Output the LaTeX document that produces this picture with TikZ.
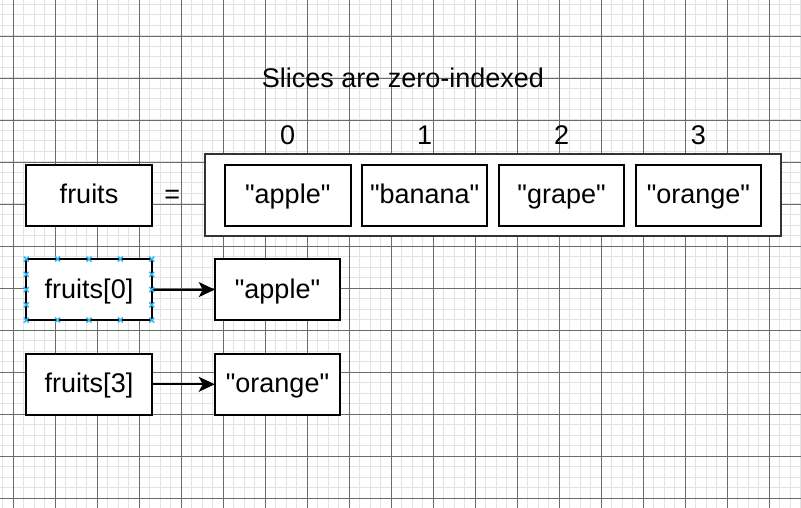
\documentclass[tikz,border=0pt]{standalone}
\usepackage{fontspec}
\setmainfont{Liberation Sans}[Ligatures=TeXOff]
\usetikzlibrary{matrix,positioning,arrows.meta,calc}
\definecolor{gridminor}{HTML}{E3E3E3}
\definecolor{gridmajor}{HTML}{6B6B6B}
\definecolor{selblue}{HTML}{29B6F2}
\tikzset{
  box/.style={draw,line width=2pt,fill=white,outer sep=0pt,inner sep=0pt,
    minimum width=125.5pt,minimum height=61pt,text height=19pt,text depth=2pt},
  plain/.style={inner sep=0pt,outer sep=0pt,text height=19pt,text depth=2pt},
  idx/.style={draw=none,fill=none,minimum height=0pt},
  ptr/.style={line width=2pt,-{Stealth[length=16pt,width=15pt,inset=4pt]}},
  selmark/.style={selblue,line width=1.4pt},
}
\def\Slice{
    \matrix (slice)
    [matrix of nodes,
    nodes in empty cells,
    ampersand replacement=\&,
    column sep={9.4pt},
    row sep={17.6pt},
    inner sep=0pt, outer sep=0pt,
    nodes={box} ] at (493.1,176)
    {
     |[idx]| 0 \& |[idx]| 1 \& |[idx]| 2 \& |[idx]| 3 \\
     "apple" \& "banana" \& "grape" \& "orange" \\
};
}
\begin{document}
\begin{tikzpicture}[x=1pt,y=-1pt,font=\fontsize{27pt}{32pt}\selectfont]
    \useasboundingbox (0,0) rectangle (801,508);
    \fill[white] (0,0) rectangle (801,508);
    % grid
    \foreach \i in {0,...,76} \draw[gridminor,line width=1pt] ({2.8+10.5*\i},0) -- ++(0,508);
    \foreach \i in {0,...,47} \draw[gridminor,line width=1pt] (0,{4.5+10.5*\i}) -- ++(801,0);
    \foreach \i in {0,...,18} \draw[gridmajor,line width=0.8pt] ({13.3+42*\i},0) -- ++(0,508);
    \foreach \i in {0,...,11} \draw[gridmajor,line width=0.8pt] (0,{36+42*\i}) -- ++(801,0);

    \node[plain] (title) at (403,78.8) {Slices are zero-indexed};
    \node[box] (fruits) at (89,195.3) {fruits};
    \node[plain] (eq) at (172.3,195) {=};
    \node[box,draw=black!80,minimum width=576pt,minimum height=82pt] (array) at (493,195) {};
    \Slice

    \node[box] (sel0) at (89,289.6) {fruits[0]};
    \node[box,right=63pt of sel0] (apple) {"apple"};
    \node[box] (sel3) at (89,384.3) {fruits[3]};
    \node[box,right=63pt of sel3] (orange) {"orange"};
    \draw[ptr] (sel0) -- (apple);
    \draw[ptr] (sel3) -- (orange);

    % selection handles
    \foreach \t in {0,0.25,0.5,0.75,1}{
      \draw[selmark] ($(sel0.north west)!\t!(sel0.north east)$) ++(-2.5,-2.5) -- ++(5,5) ++(-5,0) -- ++(5,-5);
      \draw[selmark] ($(sel0.south west)!\t!(sel0.south east)$) ++(-2.5,-2.5) -- ++(5,5) ++(-5,0) -- ++(5,-5);
    }
    \foreach \t in {0.25,0.5,0.75}{
      \draw[selmark] ($(sel0.north west)!\t!(sel0.south west)$) ++(-2.5,-2.5) -- ++(5,5) ++(-5,0) -- ++(5,-5);
      \draw[selmark] ($(sel0.north east)!\t!(sel0.south east)$) ++(-2.5,-2.5) -- ++(5,5) ++(-5,0) -- ++(5,-5);
    }
\end{tikzpicture}
\end{document}
